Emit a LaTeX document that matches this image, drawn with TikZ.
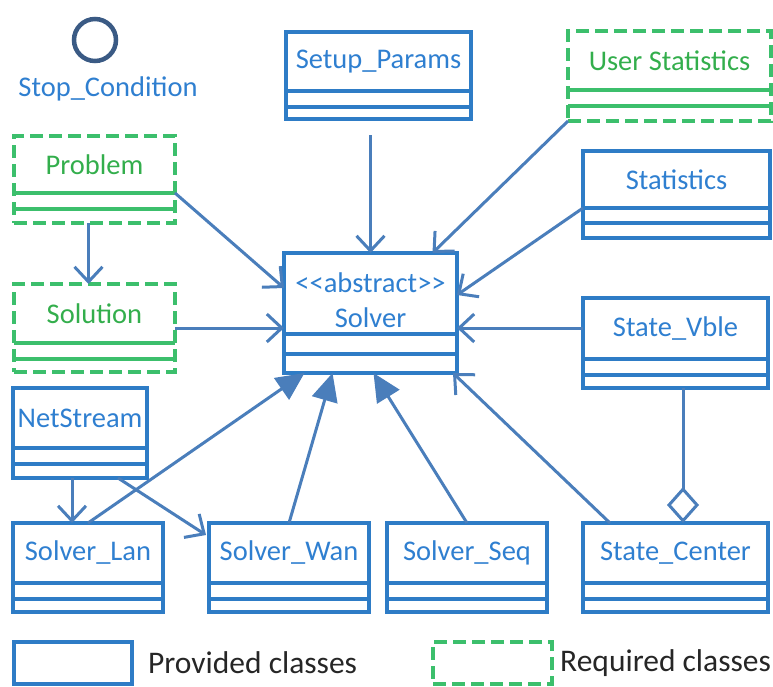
\documentclass[tikz,border=0pt]{standalone}
\usepackage{fontspec}
\setmainfont{Carlito}
\usetikzlibrary{arrows.meta,calc}
\definecolor{pblue}{HTML}{2E7CC6}
\definecolor{tblue}{HTML}{2F7FD0}
\definecolor{ablue}{HTML}{4A7EBB}
\definecolor{rgreen}{HTML}{3CBF6C}
\definecolor{tgreen}{HTML}{33AE4C}
\definecolor{cnavy}{HTML}{3A5A84}
\tikzset{
  prov/.style={draw=pblue, line width=4.5pt, rectangle, inner sep=0pt, outer sep=0pt},
  req/.style={draw=rgreen, line width=4.5pt, dash pattern=on 13pt off 6pt, rectangle, inner sep=0pt, outer sep=0pt},
  prov line/.style={draw=pblue, line width=4pt},
  req line/.style={draw=rgreen, line width=4pt},
  prov text/.style={text=tblue, font=\fontsize{28.5}{35}\selectfont, align=center, inner sep=0pt},
  req text/.style={text=tgreen, font=\fontsize{28.5}{35}\selectfont, align=center, inner sep=0pt},
  assoc/.style={draw=ablue, line width=3pt, -{Straight Barb[length=15pt,width=28pt,line width=3pt]}},
  gen/.style={draw=ablue, line width=3pt, -{Triangle[length=28pt,width=26pt]}},
  legtext/.style={text=black!85, font=\fontsize{31.5}{36}\selectfont, anchor=west, inner sep=0pt},
}
\newcommand{\cls}[9]{%
  \node[#2, minimum width={#5-#3}, minimum height={#6-#4}, anchor=north west] (#1) at (#3,#4) {};
  \draw[#2 line] (#3,#7) -- (#5,#7);
  \draw[#2 line] (#3,#8) -- (#5,#8);
  \node[#2 text] (#1-t) at ({(#3+#5)/2},{(#4+#7)/2}) {#9};
}
\begin{document}
\begin{tikzpicture}[x=1pt,y=-1pt]
\useasboundingbox (0,0) rectangle (773,686);
% stop condition
\node[circle, draw=cnavy, line width=4.5pt, minimum size=42pt, inner sep=0pt] (stop) at (95,40) {};
\node[prov text] (stop-t) at (108,89) {Stop\_Condition};
% classes
\cls{stup}{prov}{286}{32}{471}{119}{91}{107}{Setup\_Params}
\cls{ustat}{req}{568}{31}{771}{121}{90}{106}{User Statistics}
\cls{stat}{prov}{583}{151}{770}{238}{208}{223}{Statistics}
\cls{prob}{req}{14}{136}{175}{223}{193}{209}{Problem}
\cls{soln}{req}{14}{284}{175}{372}{343}{359}{Solution}
\node[prov, minimum width=173, minimum height=120, anchor=north west] (solver) at (284,253) {};
\draw[prov line] (284,334) -- (457,334);
\draw[prov line] (284,354) -- (457,354);
\node[prov text] (solver-t) at (370.5,300) {<{}<abstract>{}>\\Solver};
\cls{svble}{prov}{583}{298}{768}{388}{359}{375}{State\_Vble}
\cls{net}{prov}{13}{388}{147}{478}{448}{464}{NetStream}
\cls{slan}{prov}{13}{523}{163}{612}{583}{599}{Solver\_Lan}
\cls{swan}{prov}{209}{523}{369}{612}{583}{599}{Solver\_Wan}
\cls{sseq}{prov}{387}{523}{547}{612}{583}{599}{Solver\_Seq}
\cls{scen}{prov}{583}{523}{768}{612}{583}{599}{State\_Center}
% associations
\coordinate (svin) at ([yshift=15pt]svble.west);
\draw[assoc] ($(stup.south -| solver.north)+(0,16)$) -- (solver.north);
\draw[assoc] (ustat.south west) -- ([xshift=62pt]solver.north);
\draw[assoc] ($(stat.south west)+(0,-30)$) -- ([yshift=18pt]solver.east);
\draw[assoc] (svin) -- (svin -| solver.east);
\draw[assoc] ($(prob.south east)+(0,-30)$) -- ([yshift=25pt]solver.west);
\draw[assoc] (soln.east) -- (soln.east -| solver.west);
\draw[assoc] ([xshift=-6pt]prob.south) -- ([xshift=-6pt]soln.north);
\draw[assoc] ([xshift=-8pt]net.south) -- ([xshift=-16pt]slan.north);
\draw[assoc] ([xshift=38pt]net.south) -- ($(swan.north west)+(-3,12)$);
% generalizations
\draw[gen] (slan.north) -- ([xshift=-66pt]solver.south);
\draw[gen] (swan.north) -- ([xshift=-38pt]solver.south);
\draw[gen] (sseq.north) -- ([xshift=3pt]solver.south);
\draw[assoc] ([xshift=27pt]scen.north west) -- ([xshift=-4pt]solver.south east);
% aggregation
\draw[draw=ablue, line width=3pt, -{Diamond[open,length=36pt,width=32pt,line width=3pt]}] ([xshift=7.5pt]svble.south) -- ([xshift=7.5pt]scen.north);
% legend
\node[prov, minimum width=118, minimum height=42, anchor=north west] (lp) at (14,642) {};
\node[legtext] (lp-t) at (148,663) {Provided classes};
\node[req, minimum width=119, minimum height=42, anchor=north west] (lr) at (433,642) {};
\node[legtext] (lr-t) at (560,663) {Required classes};
\end{tikzpicture}
\end{document}
